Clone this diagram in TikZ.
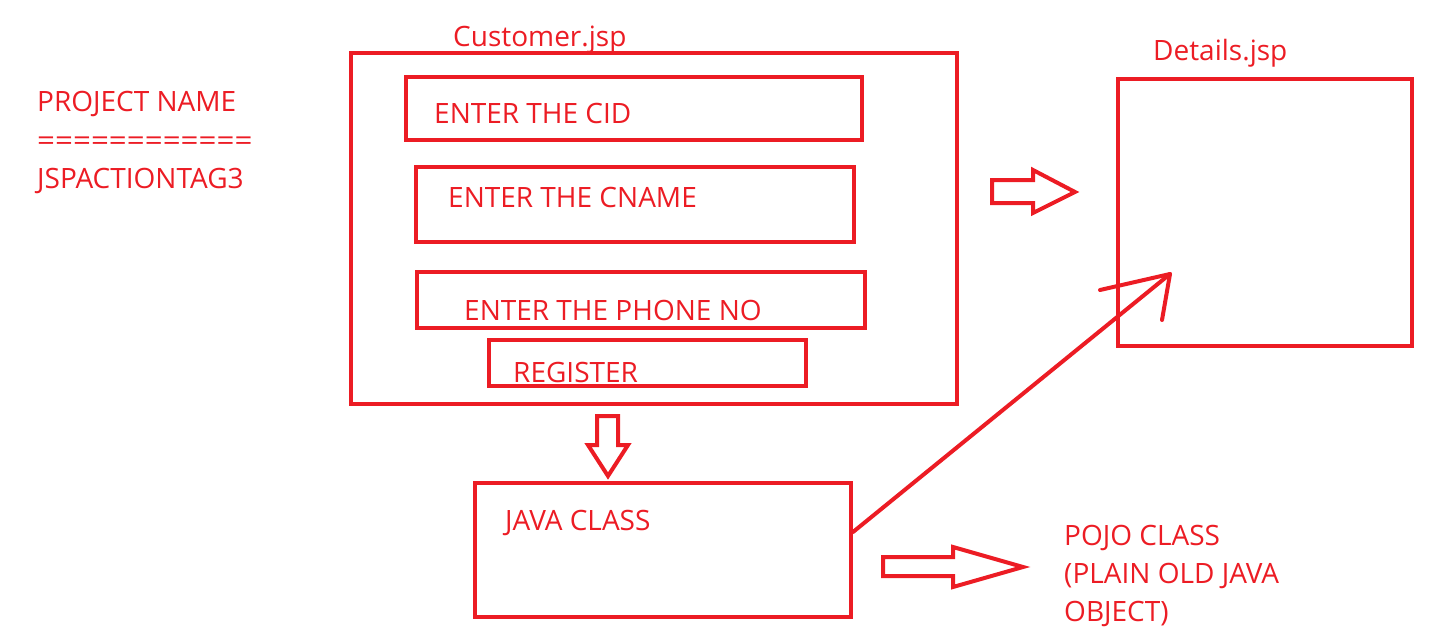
\documentclass[tikz,border=0pt]{standalone}
\usepackage{fontspec}
\setmainfont{Open Sans}
\usetikzlibrary{positioning}
\definecolor{paintred}{RGB}{236,28,36}
\tikzstyle{frame}=[
	rectangle,
	draw=paintred,
	line width=4pt,
	inner sep=0pt
]
\tikzstyle{caption}=[
	text=paintred,
	font=\fontsize{28}{38}\selectfont,
	inner sep=0pt,
	anchor=base west
]
\tikzstyle{blockarrow}=[
	draw=paintred,
	line width=4pt,
	line join=miter
]
\tikzstyle{pointer}=[
	draw=paintred,
	line width=4pt,
	line cap=round,
	line join=round
]

\begin{document}
\begin{tikzpicture}[x=1pt,y=-1pt]
\useasboundingbox (0,0) rectangle (1443,633);
% project name
\node [caption] (ProjectTitle) at (37,111) {PROJECT NAME};
\node [caption] (ProjectRule) at (37,150) {\scalebox{1.12}[1]{============}};
\node [caption] (ProjectName) at (37,188) {JSPACTIONTAG3};
% Customer.jsp form
\node [frame, minimum width=606pt, minimum height=351pt] (Customer) at (654,228.5) {};
\node [caption] (CustomerLabel) at (453,46) {Customer.jsp};
\node [frame, minimum width=456pt, minimum height=63pt] (Cid) at (633.5,108) {};
\node [caption] (CidText) at (434,123) {ENTER THE CID};
\node [frame, minimum width=438pt, minimum height=75pt] (Cname) at (635,204.5) {};
\node [caption] (CnameText) at (448,207) {ENTER THE CNAME};
\node [frame, minimum width=448pt, minimum height=56pt] (Phone) at (641,300) {};
\node [caption] (PhoneText) at (464,320) {ENTER THE PHONE NO};
\node [frame, minimum width=317pt, minimum height=46pt] (Register) at (647.5,363) {};
\node [caption] (RegisterText) at (513,382) {REGISTER};
% Details.jsp
\node [frame, minimum width=294pt, minimum height=267pt] (Details) at (1265,212.5) {};
\node [caption] (DetailsLabel) at (1153,60) {Details.jsp};
% java class
\node [frame, minimum width=376pt, minimum height=134pt] (JavaClass) at (663,550) {};
\node [caption] (JavaText) at (505,530) {JAVA CLASS};
% pojo
\node [caption, align=left, anchor=north west] (Pojo) at (1064,525) {POJO CLASS\\(PLAIN OLD JAVA\\OBJECT)};
% block arrows
\draw [blockarrow] (992,180) -- (1033,180) -- (1033,170) -- (1075,192)
	-- (1033,213) -- (1033,203) -- (992,203) -- cycle;
\draw [blockarrow] (597,416) -- (618,416) -- (618,445) -- (628,445)
	-- (608,476) -- (588,445) -- (597,445) -- cycle;
\draw [blockarrow] (883,557) -- (953,557) -- (953,547) -- (1023,567)
	-- (953,587) -- (953,576) -- (883,576) -- cycle;
% java class to details
\coordinate (Target) at (1170,274);
\draw [pointer] (JavaClass.east |- 0,532) -- (Target);
\draw [pointer] (1100,290) -- (Target) -- (1162,320);
\end{tikzpicture}
\end{document}
